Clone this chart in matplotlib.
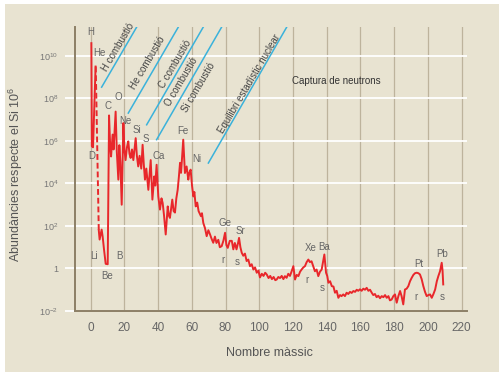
import numpy as np
import matplotlib
matplotlib.use("Agg")
import matplotlib.pyplot as plt
from matplotlib.patches import Rectangle
from matplotlib.ticker import NullLocator

plt.rcParams['font.family'] = ['Liberation Sans', 'DejaVu Sans']
plt.rcParams['mathtext.fontset'] = 'custom'
plt.rcParams['mathtext.rm'] = 'Liberation Sans'
plt.rcParams['mathtext.it'] = 'Liberation Sans:italic'

# abundances are stored as log10 values (Si = 10^6)
# H and He peaks
peak_x = [0.4, 0.7, 1.4, 2.9]
peak_log = [10.6, 5.75, 5.7, 9.5]
# He -> Li, dashed in the original
gap_x = [3.0, 4.8]
gap_log = [9.5, 1.8]
# the rest of the curve
mass = [4.8, 5.3, 6.5, 7.1, 7.9, 8.9, 10.1, 10.9, 11.5, 12.1, 13.0, 13.6, 14.8, 15.5, 16.4, 17.0, 17.6, 18.4,
        19.4, 20.0, 20.7, 21.5, 22.3, 23.0, 23.7, 24.5, 25.3, 26.7, 27.4, 28.2, 29.0, 30.0, 30.8, 31.5, 32.2,
        33.0, 34.2, 35.0, 35.6, 36.6, 37.7, 38.3, 39.1, 40.1, 41.1, 42.0, 42.7, 43.5, 44.5, 45.7, 46.3, 47.0,
        48.4, 49.2, 50.0, 50.8, 51.6, 52.3, 53.0, 53.6, 54.9, 55.9, 56.9, 57.9, 58.5, 59.3, 60.1, 60.9, 61.5,
        62.3, 63.2, 64.0, 65.4, 66.0, 66.8, 67.8, 68.8, 69.8, 70.8, 71.7, 72.7, 73.7, 74.6, 75.7, 76.6, 77.7,
        78.7, 79.7, 80.5, 81.3, 82.5, 83.7, 84.6, 85.5, 86.5, 87.4, 88.0, 88.8, 89.6, 90.5, 91.5, 92.5, 93.5,
        94.5, 95.5, 96.5, 97.5, 98.5, 99.5, 100.4, 101.5, 102.5, 103.5, 104.4, 105.5, 106.5, 107.5, 108.5,
        109.5, 110.3, 111.3, 112.3, 113.3, 114.3, 115.2, 116.2, 117.2, 118.2, 119.2, 120.2, 121.2, 122.2,
        123.2, 124.2, 125.1, 126.1, 127.1, 128.1, 129.1, 130.0, 131.0, 132.0, 133.0, 134.0, 135.0, 136.0,
        137.0, 138.6, 139.6, 140.3, 141.0, 142.0, 143.0, 144.0, 144.9, 145.9, 146.9, 147.9, 148.8, 149.8,
        150.8, 151.8, 152.8, 153.8, 154.8, 155.8, 156.8, 157.8, 158.7, 159.7, 160.7, 161.7, 162.7, 163.7,
        164.7, 165.7, 166.7, 167.6, 168.6, 169.6, 170.6, 171.6, 172.6, 173.6, 174.6, 175.6, 176.6, 177.5,
        178.5, 179.5, 180.5, 181.5, 182.5, 183.5, 184.4, 185.4, 186.4, 187.4, 188.4, 189.4, 190.4, 191.4,
        192.4, 193.4, 194.3, 195.3, 196.3, 197.3, 198.3, 199.3, 200.3, 201.3, 202.3, 203.3, 204.3, 205.3,
        206.2, 207.2, 208.2, 208.7, 209.1]
log_ab = [1.8, 1.36, 1.83, 1.5, 0.9, 0.22, 0.2, 7.2, 5.9, 5.27, 6.3, 5.6, 7.38, 5.5, 4.18, 5.8, 5.0, 3.0,
          6.84, 5.6, 5.1, 5.7, 5.98, 5.4, 5.2, 5.6, 5.1, 6.13, 5.3, 4.8, 5.3, 4.7, 5.82, 4.9, 4.18,
          4.7, 3.7, 4.5, 5.1, 3.24, 4.33, 3.9, 4.88, 3.39, 2.77, 3.3, 3.08, 2.5, 1.6, 2.92, 2.5, 2.38,
          3.24, 2.7, 2.63, 3.3, 3.7, 4.3, 4.97, 4.5, 6.06, 4.49, 4.8, 4.18, 4.5, 4.65, 3.9, 3.39, 3.6,
          2.92, 3.1, 2.7, 2.46, 2.6, 2.14, 1.9, 1.52, 1.8, 1.6, 1.4, 1.21, 1.5, 1.2, 1.35, 1.0, 1.05,
          1.3, 1.68, 1.1, 0.97, 1.3, 1.3, 0.9, 1.2, 0.9, 1.2, 1.44, 1.0, 0.74, 0.6, 0.7, 0.35, 0.42,
          0.11, 0.2, -0.05, 0.05, -0.2, -0.1, -0.42, -0.25, -0.35, -0.2, -0.28, -0.45, -0.35, -0.5, -0.4,
          -0.55, -0.52, -0.4, -0.45, -0.35, -0.5, -0.36, -0.44, -0.25, -0.35, -0.13, 0.11, -0.52, -0.3,
          -0.36, -0.15, -0.05, 0.05, 0.11, 0.3, 0.42, 0.3, 0.34, 0.1, -0.13, -0.05, -0.36, -0.15,
          -0.05, 0.66, -0.2, -0.35, -0.67, -0.6, -0.83, -0.85, -1.14, -1.05, -1.38, -1.25, -1.3, -1.22,
          -1.3, -1.14, -1.2, -1.1, -1.15, -1.06, -1.1, -1.0, -1.05, -0.98, -1.05, -0.95, -1.0, -0.91,
          -1.05, -1.0, -1.14, -1.25, -1.2, -1.35, -1.28, -1.4, -1.3, -1.35, -1.25, -1.38, -1.3, -1.5,
          -1.46, -1.3, -1.22, -1.61, -1.3, -1.06, -1.3, -1.69, -0.99, -0.95, -0.83, -0.6, -0.44, -0.3,
          -0.22, -0.2, -0.22, -0.28, -0.5, -0.83, -1.1, -1.3, -1.25, -1.22, -1.38, -1.2, -0.99, -0.6,
          -0.36, -0.13, 0.27, -0.1, -0.75]

# element labels (mass number, log10 abundance where the label sits)
elements = ["H", "He", "D", "C", "O", "Ne", "Si", "S", "Ca", "Fe", "Ni", "Li", "Be", "B",
            "Ge", "Sr", "r", "s", "Xe", "Ba", "r", "s", "Pt", "Pb", "r", "s"]
el_x = [0.0, 4.9, 0.6, 10.4, 16.4, 20.3, 27.6, 32.6, 40.1, 54.9, 62.9, 1.8, 9.5, 16.8,
        79.8, 88.9, 78.3, 86.8, 130.5, 138.4, 128.5, 137.6, 194.5, 208.2, 192.8, 208.2]
el_log = [11.11, 10.15, 5.27, 7.65, 8.06, 6.92, 6.53, 6.1, 5.27, 6.48, 5.15, 0.61, -0.34, 0.61,
          2.14, 1.75, 0.38, 0.3, 0.97, 1.02, -0.52, -0.91, 0.19, 0.66, -1.33, -1.33]

# burning stages: label and label position, then the blue boundary lines
stages = ["H combustió", "He combustió", "C combustió", "O combustió", "Si combustió",
          "Equilibri estadístic nuclear"]
stage_x = [16.2, 34.0, 50.0, 54.0, 63.8, 94.0]
stage_log = [10.4, 9.66, 9.6, 8.8, 8.53, 8.69]
line_x0 = [6.5, 22.3, 33.2, 39.1, 69.8]
line_log0 = [8.53, 7.31, 6.76, 6.06, 4.96]
line_x1 = [27.3, 52.0, 66.8, 77.7, 116.3]
line_log1 = [11.36, 11.36, 11.36, 11.36, 11.36]

xticks = list(range(0, 221, 20))
ytick_exp = [-2, 0, 2, 4, 6, 8, 10]
ytick_labels = ["10$^{-2}$", "1", "10$^{2}$", "10$^{4}$", "10$^{6}$", "10$^{8}$", "10$^{10}$"]

beige = "#e8e3d1"
red = "#e8272b"
blue = "#3ab2db"
txt = "#666666"

fig = plt.figure(figsize=(5, 3.76), dpi=100, facecolor="white")
fig.add_artist(Rectangle((5 / 500, 1 - 372 / 376), 494 / 500, 368 / 376,
                         transform=fig.transFigure, facecolor=beige, edgecolor="none", zorder=-10))
ax = fig.add_axes([75 / 500, 1 - 311 / 376, 392 / 500, 284 / 376])
ax.set_facecolor("none")

ax.set_yscale("log")
ax.set_xlim(-9.3, 223.2)
ax.set_ylim(1e-2, 10 ** 11.36)
ax.yaxis.set_minor_locator(NullLocator())
ax.set_xticks(xticks)
ax.set_yticks([10.0 ** e for e in ytick_exp])
ax.set_yticklabels(ytick_labels)

for s in ["top", "right"]:
    ax.spines[s].set_visible(False)
for s in ["left", "bottom"]:
    ax.spines[s].set_color("#8c7f66")
    ax.spines[s].set_linewidth(1.4)

ax.set_axisbelow(True)
ax.grid(axis="y", color="white", lw=1.3)
ax.grid(axis="x", color="#bdb39c", lw=0.9)
ax.tick_params(axis="x", length=0, pad=8, labelsize=8.5, labelcolor=txt)
ax.tick_params(axis="y", length=7, width=1.3, color="white", pad=5, labelsize=6.5, labelcolor="#777777")
ax.yaxis.get_major_ticks()[0].tick1line.set_color("#8c7f66")

ax.plot(peak_x, 10.0 ** np.array(peak_log), color=red, lw=1.4)
ax.plot(gap_x, 10.0 ** np.array(gap_log), color=red, lw=1.4, ls=(0, (3, 1.5)))
ax.plot(mass, 10.0 ** np.array(log_ab), color=red, lw=1.4)

for i in range(len(line_x0)):
    ax.plot([line_x0[i], line_x1[i]], [10.0 ** line_log0[i], 10.0 ** line_log1[i]], color=blue, lw=1.1)
for name, x, lg in zip(stages, stage_x, stage_log):
    ax.text(x, 10.0 ** lg, name, rotation=59.5, rotation_mode="anchor", ha="center", va="center",
            fontsize=7, color="#444444")

for name, x, lg in zip(elements, el_x, el_log):
    ax.text(x, 10.0 ** lg, name, ha="center", va="center", fontsize=7, color=txt)

ax.text(145.9, 10.0 ** 8.8, "Captura de neutrons", ha="center", va="center", fontsize=7, color="#333333")

ax.set_ylabel("Abundàncies respecte el Si 10$^{6}$", fontsize=9, color="#555555")
ax.yaxis.set_label_coords(-0.128, 0.48)
ax.set_xlabel("Nombre màssic", fontsize=9, color="#555555")
ax.xaxis.set_label_coords(0.497, -0.125)

fig.savefig("out.png", dpi=100, facecolor="white")
